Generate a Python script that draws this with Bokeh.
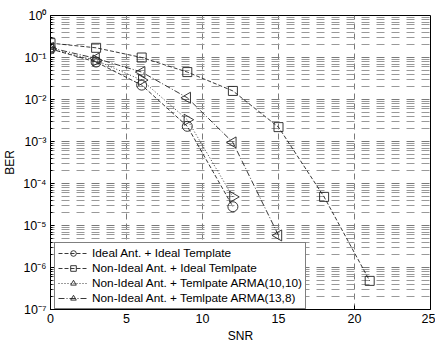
import math
from bokeh.plotting import figure
from bokeh.models import FixedTicker, CustomJSTickFormatter, Legend, LegendItem
from bokeh.embed import file_html
from bokeh.resources import INLINE

# ---- data ----
snr_ideal = [0, 3, 6, 9, 12]
ber_ideal = [0.16, 0.078, 0.022, 2.3e-3, 2.8e-5]

snr_nonideal = [0, 3, 6, 9, 12, 15, 18, 21]
ber_nonideal = [0.22, 0.17, 0.10, 0.045, 0.016, 2.2e-3, 4.8e-5, 4.8e-7]

snr_arma1010 = [0, 3, 6, 9, 12]
ber_arma1010 = [0.16, 0.085, 0.029, 3.3e-3, 4.8e-5]

snr_arma138 = [0, 3, 6, 9, 12, 15]
ber_arma138 = [0.17, 0.095, 0.045, 0.011, 9.5e-4, 5.8e-6]

x_ticks = [0, 5, 10, 15, 20, 25]
y_decades = [-7, -6, -5, -4, -3, -2, -1, 0]

labels = [
    "Ideal Ant. + Ideal Template",
    "Non-Ideal Ant. + Ideal Temlpate",
    "Non-Ideal Ant. + Temlpate ARMA(10,10)",
    "Non-Ideal Ant. + Temlpate ARMA(13,8)",
]

FONT = "Liberation Sans"

p = figure(width=435, height=345, y_axis_type="log",
           x_range=(0, 25), y_range=(1e-7, 1),
           output_backend="svg", toolbar_location=None,
           min_border_left=49, min_border_right=5,
           min_border_top=15, min_border_bottom=33)
p.background_fill_color = "white"
p.border_fill_color = "white"
p.outline_line_color = "black"
p.outline_line_width = 1

# ticks
major_y = [10.0 ** d for d in y_decades]
minor_y = [m * 10.0 ** d for d in y_decades[:-1] for m in range(2, 10)]
p.yaxis.ticker = FixedTicker(ticks=major_y, minor_ticks=minor_y)
p.xaxis.ticker = FixedTicker(ticks=x_ticks)
p.yaxis.formatter = CustomJSTickFormatter(code="""
const sup = {'-':'\u207b','0':'\u2070','1':'\u00b9','2':'\u00b2','3':'\u00b3','4':'\u2074','5':'\u2075','6':'\u2076','7':'\u2077','8':'\u2078','9':'\u2079'};
const e = Math.round(Math.log10(tick));
return '10' + String(e).split('').map(c => sup[c]).join('');
""")

for ax in (p.xaxis, p.yaxis):
    ax.axis_line_color = "black"
    ax.major_tick_in = 4
    ax.major_tick_out = 0
    ax.minor_tick_in = 2
    ax.minor_tick_out = 0
    ax.major_label_text_font = FONT
    ax.major_label_text_font_size = "12.5px"
    ax.major_label_text_color = "black"
    ax.axis_label_text_font = FONT
    ax.axis_label_text_font_size = "12px"
    ax.axis_label_text_font_style = "normal"
    ax.axis_label_text_color = "black"
    ax.major_label_standoff = 4
    ax.axis_label_standoff = 3

p.xaxis.axis_label = "SNR"
p.yaxis.axis_label = "BER"

# grid
p.xgrid.grid_line_color = "#7a7a7a"
p.xgrid.grid_line_dash = "6 4"
p.xgrid.grid_line_width = 1
p.ygrid.grid_line_color = "#7a7a7a"
p.ygrid.grid_line_dash = "8 7"
p.ygrid.grid_line_dash_offset = 4
p.ygrid.grid_line_width = 1
p.ygrid.minor_grid_line_color = "#999999"
p.ygrid.minor_grid_line_dash = "8 7"
p.ygrid.minor_grid_line_dash_offset = 4
p.ygrid.minor_grid_line_width = 1

LC = "#222222"
r_items = []

l1 = p.line(snr_ideal, ber_ideal, line_color=LC, line_width=0.9, line_dash="4 2")
m1 = p.scatter(snr_ideal, ber_ideal, marker="circle", size=10, fill_color=None,
               line_color=LC, line_width=0.9)
r_items.append([l1, m1])

l2 = p.line(snr_nonideal, ber_nonideal, line_color=LC, line_width=0.9, line_dash="4 2")
m2 = p.scatter(snr_nonideal, ber_nonideal, marker="square", size=9, fill_color=None,
               line_color=LC, line_width=0.9)
r_items.append([l2, m2])

l3 = p.line(snr_arma1010, ber_arma1010, line_color=LC, line_width=0.9, line_dash="1 2")
m3 = p.scatter(snr_arma1010, ber_arma1010, marker="triangle", size=11, angle=-math.pi / 2,
               fill_color=None, line_color=LC, line_width=0.9)
r_items.append([l3, m3])

l4 = p.line(snr_arma138, ber_arma138, line_color=LC, line_width=0.9, line_dash="6 2 1 2")
m4 = p.scatter(snr_arma138, ber_arma138, marker="triangle", size=11, angle=math.pi / 2,
               fill_color=None, line_color=LC, line_width=0.9)
r_items.append([l4, m4])

legend = Legend(items=[LegendItem(label=lab, renderers=rs) for lab, rs in zip(labels, r_items)],
                location=(4, 0))
legend.label_text_font = FONT
legend.label_text_font_size = "11.8px"
legend.label_text_color = "black"
legend.label_height = 14
legend.glyph_height = 14
legend.glyph_width = 30
legend.label_standoff = 4
legend.spacing = 1
legend.padding = 3
legend.margin = 0
legend.border_line_color = "black"
legend.border_line_width = 1
legend.background_fill_color = "white"
legend.background_fill_alpha = 1
p.add_layout(legend, "center")

open("out.html", "w").write(file_html(p, INLINE))
